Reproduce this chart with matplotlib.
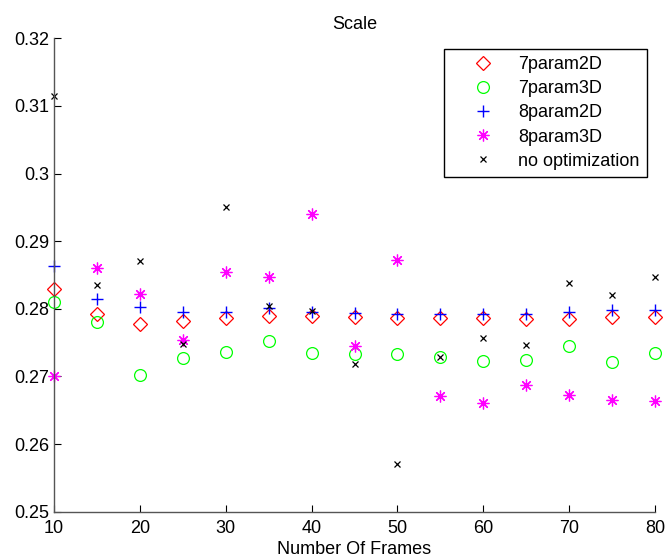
import matplotlib
matplotlib.use('Agg')
import matplotlib.pyplot as plt
from matplotlib.ticker import FuncFormatter

plt.rcParams['font.family'] = ['Liberation Sans', 'DejaVu Sans']

# number of frames
frames = [10, 15, 20, 25, 30, 35, 40, 45, 50, 55, 60, 65, 70, 75, 80]

p7_2d = [0.2829, 0.2792, 0.2778, 0.2782, 0.2786, 0.2790, 0.2789, 0.2788,
         0.2787, 0.2787, 0.2787, 0.2785, 0.2785, 0.2788, 0.2788]
p7_3d = [0.2810, 0.2780, 0.2702, 0.2727, 0.2736, 0.2753, 0.2735, 0.2733,
         0.2733, 0.2728, 0.2723, 0.2725, 0.2745, 0.2721, 0.2735]
p8_2d = [0.2864, 0.2814, 0.2803, 0.2796, 0.2796, 0.2801, 0.2796, 0.2794,
         0.2792, 0.2792, 0.2792, 0.2792, 0.2796, 0.2798, 0.2798]
p8_3d = [0.2700, 0.2861, 0.2822, 0.2754, 0.2854, 0.2847, 0.2940, 0.2745,
         0.2872, 0.2671, 0.2661, 0.2688, 0.2673, 0.2665, 0.2663]
no_opt = [0.3115, 0.2835, 0.2870, 0.2748, 0.2951, 0.2804, 0.2797, 0.2718,
          0.2571, 0.2728, 0.2757, 0.2746, 0.2838, 0.2821, 0.2847]

labels = ['7param2D', '7param3D', '8param2D', '8param3D', 'no optimization']
xticks = [10, 20, 30, 40, 50, 60, 70, 80]
yticks = [0.25, 0.26, 0.27, 0.28, 0.29, 0.30, 0.31, 0.32]

fig = plt.figure(figsize=(6.65, 5.58), dpi=100)
ax = fig.add_axes([0.0812, 0.083, 0.9038, 0.8484])

ax.plot(frames, p7_2d, 'D', mfc='none', mec='#ff0000', ms=7.5, mew=0.9, label=labels[0], clip_on=False)
ax.plot(frames, p7_3d, 'o', mfc='none', mec='#00ff00', ms=8.5, mew=0.9, label=labels[1], clip_on=False)
ax.plot(frames, p8_2d, '+', color='#0000ff', ms=9, mew=1.0, label=labels[2], clip_on=False)
ax.plot(frames, p8_3d, marker=(8, 2, 0), ls='none', color='#ff00ff', ms=8.5, mew=0.9, label=labels[3], clip_on=False)
ax.plot(frames, no_opt, 'x', color='black', ms=4.5, mew=0.9, label=labels[4], clip_on=False)

ax.set_xlim(10, 80)
ax.set_ylim(0.25, 0.32)
ax.set_xticks(xticks)
ax.set_yticks(yticks)
ax.yaxis.set_major_formatter(FuncFormatter(lambda v, p: '%g' % round(v, 4)))
ax.tick_params(direction='in', length=5, width=0.8, labelsize=13, colors='black')
ax.tick_params(axis='x', pad=6)

for s in ['top', 'right']:
    ax.spines[s].set_visible(False)
for s in ['left', 'bottom']:
    ax.spines[s].set_color('#555555')
    ax.spines[s].set_linewidth(1.0)

ax.set_title('Scale', fontsize=13, pad=7)
ax.set_xlabel('Number Of Frames', fontsize=13, labelpad=3)

leg = ax.legend(loc='upper right', bbox_to_anchor=(0.9867, 0.978), borderaxespad=0,
                fontsize=13, fancybox=False, edgecolor='black', framealpha=1,
                labelspacing=0.4, handlelength=3.5, handletextpad=0.2, borderpad=0.4)
leg.get_frame().set_linewidth(1.0)

fig.savefig('out.png', dpi=100)
